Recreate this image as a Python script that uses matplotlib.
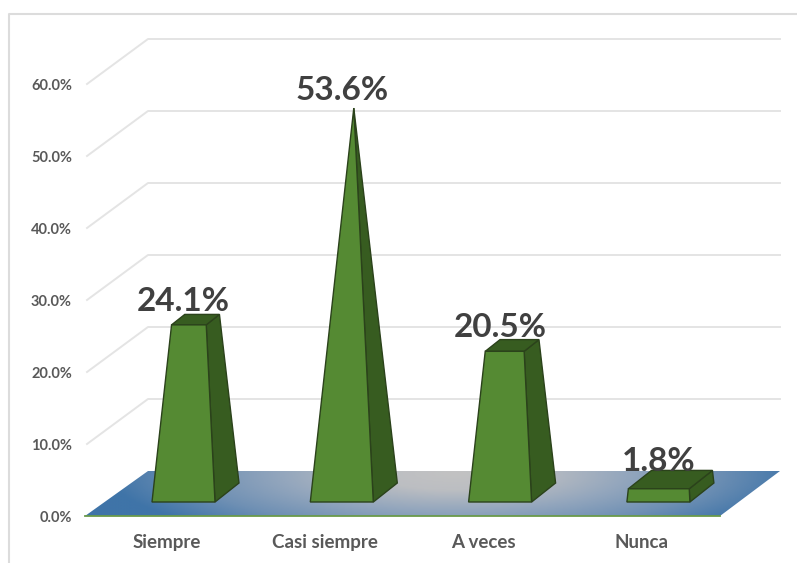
import numpy as np
import matplotlib
matplotlib.use('Agg')
import matplotlib.pyplot as plt
from matplotlib.patches import Polygon
from matplotlib.colors import LinearSegmentedColormap

categories = ['Siempre', 'Casi siempre', 'A veces', 'Nunca']
values = [24.1, 53.6, 20.5, 1.8]
y_ticks = [0, 10, 20, 30, 40, 50, 60]

plt.rcParams['font.family'] = ['Lato', 'DejaVu Sans']

W, H = 797, 563
PX_X = 158.3   # pixels per category
PX_Y = 7.2     # pixels per percentage point
X0, Y0 = 183.5, 516   # pixel position of first category / 0% on the front edge


def px(x):
    return x / PX_X


def py(y):
    return y / PX_Y


fig = plt.figure(figsize=(W / 100, H / 100), dpi=100, facecolor='white')
ax = fig.add_axes([0, 0, 1, 1])
ax.set_xlim(-X0 / PX_X, (W - X0) / PX_X)
ax.set_ylim((Y0 - H) / PX_Y, Y0 / PX_Y)
ax.axis('off')

# chart frame
ax.plot([px(9 - X0), px(9 - X0), px(W - X0)],
        [py(Y0 - H), py(Y0 - 14), py(Y0 - 14)], color='#dcdcdc', lw=1.5, zorder=1)

# back wall gridlines, with the side wall going to the front edge
back_dx, back_dy = px(61), py(45)
left = px(87 - X0)
right = px(780 - X0)
for t in y_ticks[1:]:
    ax.plot([left, left + back_dx, right], [t, t + back_dy, t + back_dy],
            color='#e4e4e4', lw=1.4, zorder=2)

for t in y_ticks:
    ax.text(px(72 - X0), t - py(2.5), f'{t:.1f}%', ha='right', va='center', fontsize=10.5,
            fontweight='bold', color='#595959')

# floor with blue corners fading to grey in the middle
cmap = LinearSegmentedColormap.from_list(
    'floor', [(0, '#c2c2c2'), (0.22, '#bcbec2'), (0.5, '#93a6bd'), (0.75, '#6f90b4'), (1, '#3f74a8')])
gx = np.linspace(-1, 1, 300)
gy = np.linspace(0, 1, 60)
xx, yy = np.meshgrid(gx, gy)
grad = np.clip(np.sqrt(((xx - 0.06) / 1.0) ** 2 + ((yy - 0.95) * 0.6) ** 2), 0, 1)
floor_x = [px(85 - X0), px(720 - X0), px(780 - X0), px(148 - X0)]
floor_y = [0, 0, back_dy, back_dy]
im = ax.imshow(grad, cmap=cmap, vmin=0, vmax=1, aspect='auto', origin='lower',
               extent=[floor_x[0], floor_x[2], 0, back_dy], zorder=3)
clip = Polygon(np.column_stack([floor_x, floor_y]), closed=True, transform=ax.transData)
im.set_clip_path(clip)
ax.plot(floor_x[:2], floor_y[:2], color='#6a9a4a', lw=1.3, zorder=4)

# truncated pyramids, all sharing the height of the tallest bar as apex
half_w = px(31.5)
base_y = py(14)
depth_x, depth_y = px(24), py(19)
bar_scale = 7.35 / PX_Y
apex_val = max(values)
front_col, dark_col, edge_col = '#558a33', '#375c20', '#2b421b'

for i, (name, v) in enumerate(zip(categories, values)):
    fl = np.array([i - half_w, base_y])
    fr = np.array([i + half_w, base_y])
    br = fr + [depth_x, depth_y]
    bl = fl + [depth_x, depth_y]
    apex = np.array([i + depth_x / 2, base_y + apex_val * bar_scale])
    f = v / apex_val
    tfl, tfr, tbr, tbl = [c + f * (apex - c) for c in (fl, fr, br, bl)]
    ax.add_patch(Polygon([fr, br, tbr, tfr], fc=dark_col, ec=edge_col, lw=1, zorder=5))
    ax.add_patch(Polygon([tfl, tfr, tbr, tbl], fc=dark_col, ec=edge_col, lw=1, zorder=5))
    ax.add_patch(Polygon([fl, fr, tfr, tfl], fc=front_col, ec=edge_col, lw=1, zorder=6))
    # value label, closer to the top on the taller bars
    ax.text(i, base_y + v * bar_scale + py(27.5 - 0.19 * v), f'{v:.1f}%', ha='center', va='center',
            fontsize=24, fontweight='bold', color='#404040', zorder=7)
    ax.text(i - px(16.5), py(Y0 - 542.5), name, ha='center', va='center', fontsize=13.5,
            fontweight='bold', color='#595959')

fig.savefig('out.png', dpi=100)
